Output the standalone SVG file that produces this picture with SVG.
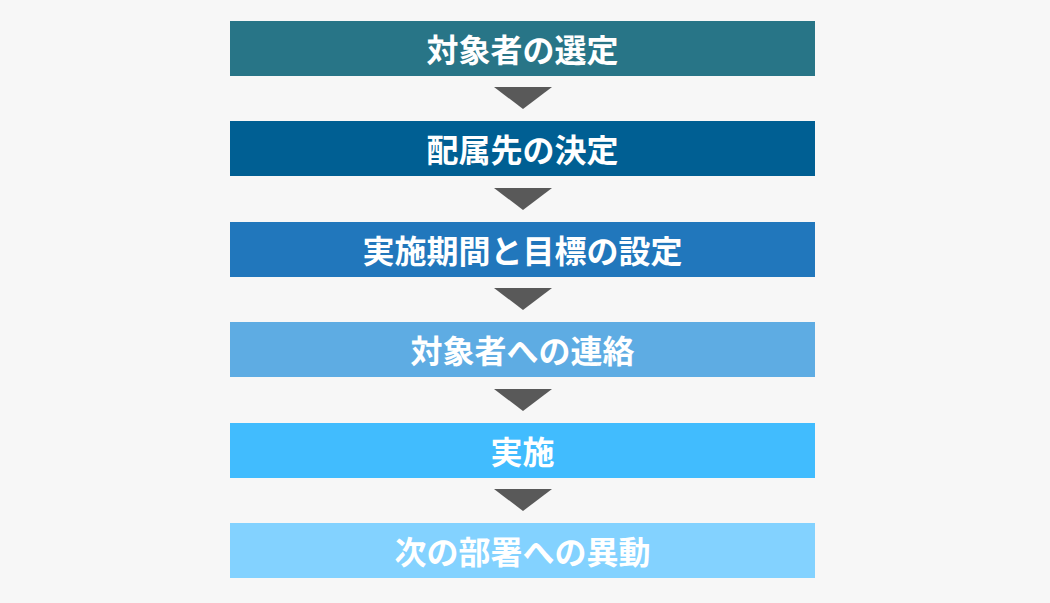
<svg xmlns="http://www.w3.org/2000/svg" width="1050" height="603" viewBox="0 0 1050 603">
<style>
.lbl{font-family:"Noto Sans CJK JP","Noto Sans",sans-serif;font-weight:bold;font-size:32px;fill:#ffffff;text-anchor:middle;dominant-baseline:central}
.arr{fill:#595959}
</style>
<rect width="1050" height="603" fill="#f7f7f7"/>
<g id="n1"><rect x="230" y="21" width="585" height="55" fill="#287587"/><text class="lbl" x="522.5" y="47.5">対象者の選定</text></g>
<g id="n2"><rect x="230" y="121" width="585" height="55" fill="#005f93"/><text class="lbl" x="522.5" y="147.5">配属先の決定</text></g>
<g id="n3"><rect x="230" y="222" width="585" height="55" fill="#2177bc"/><text class="lbl" x="522.5" y="248.5">実施期間と目標の設定</text></g>
<g id="n4"><rect x="230" y="322" width="585" height="55" fill="#5eace3"/><text class="lbl" x="522.5" y="348.5">対象者への連絡</text></g>
<g id="n5"><rect x="230" y="423" width="585" height="55" fill="#41bcfe"/><text class="lbl" x="522.5" y="449.5">実施</text></g>
<g id="n6"><rect x="230" y="523" width="585" height="55" fill="#83d2ff"/><text class="lbl" x="522.5" y="549.5">次の部署への異動</text></g>
<g id="connectors">
<polygon class="arr" points="494,87 552,87 523,109"/>
<polygon class="arr" points="494,188 552,188 523,210"/>
<polygon class="arr" points="494,288 552,288 523,310"/>
<polygon class="arr" points="494,389 552,389 523,411"/>
<polygon class="arr" points="494,489 552,489 523,511"/>
</g>
</svg>
